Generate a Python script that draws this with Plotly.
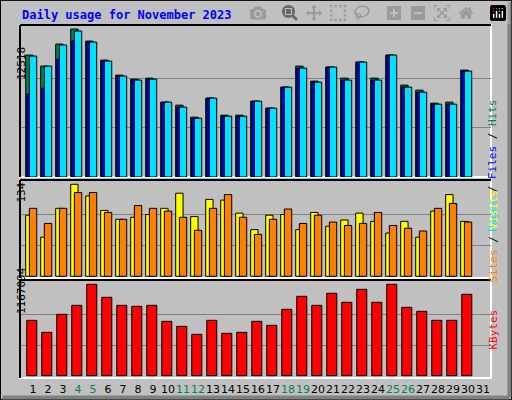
import plotly.graph_objects as go

days = list(range(1, 32))
weekend = [4, 5, 11, 12, 18, 19, 25, 26]
max_hits, max_sites, max_kb = 12518, 134, 1167094

# pixel-read tops converted to values
hits_px = [55,66,44,29,41,60,75,79,78,102,105,117,98,115,115,101,108,87,66,81,67,78,62,78,55,85,90,103,102,70]
pages_px = [56,66,45,31,42,61,76,80,79,102,107,118,98,116,116,101,108,87,68,82,67,80,62,80,55,87,92,104,104,71]
files_px = [94,88,59,41,42,61,76,80,79,102,107,118,98,116,116,101,108,87,68,82,67,80,62,80,55,87,92,104,104,71]
hits = [round((176.7 - y) / 147.4 * max_hits) for y in hits_px] + [None]
files = [round((176.7 - y) / 147.4 * max_hits) for y in files_px] + [None]
pages = [round((176.7 - y) / 147.4 * max_hits) for y in pages_px] + [None]

sites_px = [121,186,100,28,64,106,133,127,118,100,55,124,73,76,115,163,121,118,163,112,154,136,115,139,175,139,187,109,58,139]
visits_px = [100,145,100,52,52,112,133,91,100,109,127,166,100,58,127,178,133,103,145,121,142,151,145,112,151,160,169,100,85,142]
sites = [round((304 - y) / 276 * max_sites) for y in sites_px] + [None]
visits = [round((304 - y) / 276 * max_sites) for y in visits_px] + [None]

kb_px = [436,472,418,391,328,367,391,394,391,439,454,478,436,475,472,439,451,403,364,391,355,382,343,382,328,397,409,436,436,358]
kbytes = [round((602 - y) / 274 * max_kb) for y in kb_px] + [None]

fig = go.Figure()
line = dict(color="black", width=1)
fig.add_bar(x=days, y=hits, width=0.49, offset=-0.49, marker=dict(color="#00805c", line=line), xaxis="x", yaxis="y")
fig.add_bar(x=days, y=files, width=0.49, offset=-0.42, marker=dict(color="#0000ff", line=line), xaxis="x", yaxis="y")
fig.add_bar(x=days, y=pages, width=0.49, offset=-0.245, marker=dict(color="#00e0ff", line=line), xaxis="x", yaxis="y")
fig.add_bar(x=days, y=sites, width=0.49, offset=-0.49, marker=dict(color="#ffff00", line=line), xaxis="x2", yaxis="y2")
fig.add_bar(x=days, y=visits, width=0.49, offset=-0.245, marker=dict(color="#ff8000", line=line), xaxis="x2", yaxis="y2")
fig.add_bar(x=days, y=kbytes, width=0.67, offset=-0.42, marker=dict(color="#ff0000", line=line), xaxis="x3", yaxis="y3")

xr = [0.13, 31.53]
grid = dict(showgrid=True, gridcolor="#808080", gridwidth=1, zeroline=False, showticklabels=False, ticks="", fixedrange=True)
ticktext = [f"<span style='color:#00805c'>{d}</span>" if d in weekend else str(d) for d in days]

def dom(a, b):
    return [1 - b / 400, 1 - a / 400]

fig.update_layout(
    width=512, height=400, margin=dict(l=0, r=0, t=0, b=0),
    paper_bgcolor="#c0c0c0", plot_bgcolor="#c0c0c0", showlegend=False, barmode="overlay",
    font=dict(family="DejaVu Sans Mono", size=11, color="black"),
    xaxis=dict(domain=[20/512, 491/512], range=xr, showticklabels=False, showgrid=False, zeroline=False, anchor="y"),
    xaxis2=dict(domain=[20/512, 491/512], range=xr, showticklabels=False, showgrid=False, zeroline=False, anchor="y2"),
    xaxis3=dict(domain=[20/512, 491/512], range=xr, showgrid=False, zeroline=False, anchor="y3",
                tickvals=days, ticktext=ticktext, ticks="", tickangle=0, ticklabelstandoff=3,
                tickfont=dict(family="DejaVu Sans", size=11)),
    yaxis=dict(domain=dom(25, 177), range=[0, max_hits * 151.7 / 147.4], tickvals=[max_hits/3, 2*max_hits/3], **grid),
    yaxis2=dict(domain=dom(180, 278), range=[-max_sites*1.7/92, max_sites * 96.3 / 92], tickvals=[max_sites/3, 2*max_sites/3], **grid),
    yaxis3=dict(domain=dom(280, 378), range=[-max_kb * 2.3 / 91.4, max_kb * 95.7 / 91.4], tickvals=[max_kb/3, 2*max_kb/3], **grid),
)

shapes = [dict(type="rect", xref="paper", yref="paper", x0=0.001, x1=0.999, y0=0.001, y1=0.999, line=dict(color="black", width=1))]
shapes.append(dict(type="line", xref="paper", yref="paper", x0=0.005, x1=0.995, y0=0.006, y1=0.006, line=dict(color="#808080", width=4)))
shapes.append(dict(type="line", xref="paper", yref="paper", x0=0.995, x1=0.995, y0=0.006, y1=0.995, line=dict(color="#808080", width=4)))
for a, b in [(25, 177), (180, 278), (280, 378)]:
    shapes.append(dict(type="rect", xref="paper", yref="paper", x0=20/512, x1=491/512, y0=1-b/400, y1=1-a/400,
                       line=dict(color="white", width=2), layer="below"))
    shapes.append(dict(type="line", xref="paper", yref="paper", x0=20/512, x1=20/512, y0=1-b/400, y1=1-a/400, line=dict(color="black", width=2)))
    shapes.append(dict(type="line", xref="paper", yref="paper", x0=20/512, x1=491/512, y0=1-a/400, y1=1-a/400, line=dict(color="black", width=2)))
fig.update_layout(shapes=shapes)

ann = [
    dict(text="<b>Daily usage for November 2023</b>", x=20/512, y=1-15/400, xanchor="left", yanchor="middle",
         font=dict(color="#0000ff", size=12, family="DejaVu Sans Mono")),
    dict(text="12518", x=13/512, y=1-45/400, textangle=-90, font=dict(size=11)),
    dict(text="134", x=13/512, y=1-193/400, textangle=-90, font=dict(size=11)),
    dict(text="1167094", x=13/512, y=1-316/400, textangle=-90, font=dict(size=11)),
    dict(text="<span style='color:#00e0ff'>Pages</span> / <span style='color:#0000ff'>Files</span> / <span style='color:#00805c'>Hits</span>",
         x=501/512, y=1-97/400, textangle=-90, font=dict(size=11)),
    dict(text="<span style='color:#ff8000'>Sites</span> / <span style='color:#ffff00'>Visits</span>",
         x=501/512, y=1-236/400, textangle=-90, font=dict(size=11)),
    dict(text="<span style='color:#ff0000'>KBytes</span>", x=501/512, y=1-352/400, textangle=-90, font=dict(size=11)),
]
for a in ann:
    a.update(xref="paper", yref="paper", showarrow=False)
fig.update_layout(annotations=ann)

fig.write_html("out.html", post_script="document.body.style.margin='0';")
